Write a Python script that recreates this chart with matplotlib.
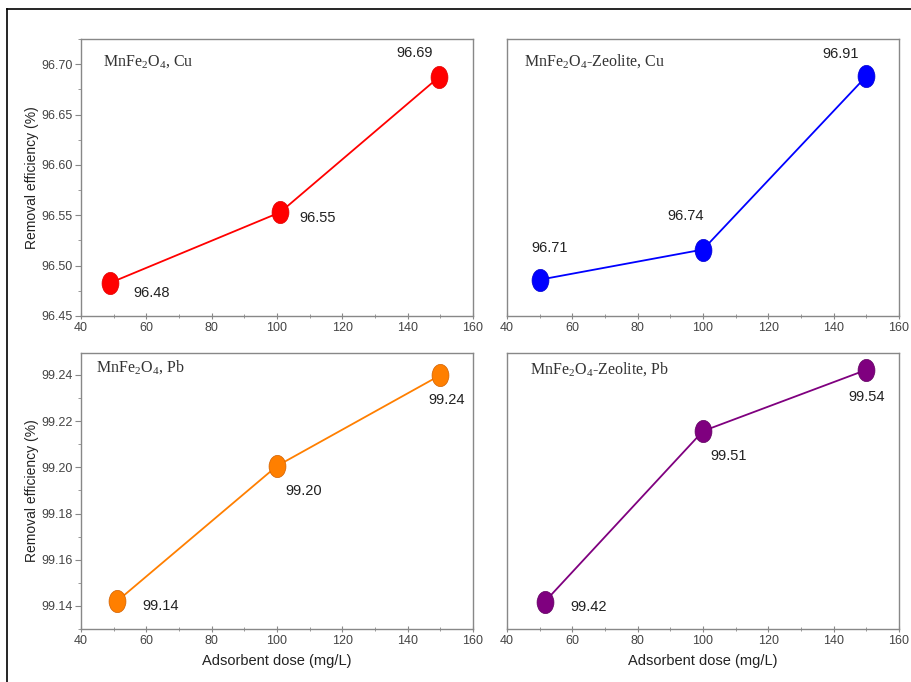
import numpy as np
import matplotlib

matplotlib.use("Agg")
import matplotlib.pyplot as plt
from matplotlib.path import Path
from matplotlib.lines import Line2D
from matplotlib.ticker import MultipleLocator, FormatStrFormatter

plt.rcParams["font.family"] = ["Liberation Sans", "DejaVu Sans"]
plt.rcParams["mathtext.fontset"] = "custom"
plt.rcParams["mathtext.rm"] = "Liberation Serif"

# values
dose_cu_mnfe = [49, 101, 149.5]
eff_cu_mnfe = [96.483, 96.553, 96.687]
text_cu_mnfe = ["96.48", "96.55", "96.69"]

dose_cu_zeo = [50, 100, 150]
eff_cu_zeo = [96.486, 96.516, 96.688]
text_cu_zeo = ["96.71", "96.74", "96.91"]

dose_pb_mnfe = [51, 100, 150]
eff_pb_mnfe = [99.142, 99.2006, 99.2399]
text_pb_mnfe = ["99.14", "99.20", "99.24"]

dose_pb_zeo = [51.5, 100, 150]
eff_pb_zeo = [99.1417, 99.2157, 99.2422]
text_pb_zeo = ["99.42", "99.51", "99.54"]

titles = [
    r"MnFe$_\mathregular{2}$O$_\mathregular{4}$, Cu",
    r"MnFe$_\mathregular{2}$O$_\mathregular{4}$-Zeolite, Cu",
    r"MnFe$_\mathregular{2}$O$_\mathregular{4}$, Pb",
    r"MnFe$_\mathregular{2}$O$_\mathregular{4}$-Zeolite, Pb",
]

# ellipse marker (taller than wide)
circ = Path.unit_circle()
ellipse = Path(circ.vertices * np.array([0.76, 1.0]), circ.codes)

fig = plt.figure(figsize=(9.12, 6.82), dpi=100)

W, H = 912, 682


def px_axes(l, t, r, b):
    return fig.add_axes([l / W, 1 - b / H, (r - l) / W, (b - t) / H])


panels = [
    (px_axes(81, 39, 473, 316), dose_cu_mnfe, eff_cu_mnfe, text_cu_mnfe,
     "#ff0000", "#e00000", [(41, -10), (37, -6), (-24, 24)], (0.056, 0.917), True, False),
    (px_axes(507, 39, 899, 316), dose_cu_zeo, eff_cu_zeo, text_cu_zeo,
     "#0000ff", "#0000d0", [(10, 32), (-17, 34), (-26, 22)], (0.043, 0.917), False, False),
    (px_axes(81, 353, 473, 629), dose_pb_mnfe, eff_pb_mnfe, text_pb_mnfe,
     "#ff7f00", "#d06000", [(44, -5), (27, -25), (6, -25)], (0.037, 0.946), True, True),
    (px_axes(507, 353, 899, 629), dose_pb_zeo, eff_pb_zeo, text_pb_zeo,
     "#7f007f", "#600060", [(44, -5), (26, -25), (0, -27)], (0.059, 0.938), False, True),
]

for i, (ax, xs, ys, labels, col, edge, offs, tpos, show_y, show_x) in enumerate(panels):
    ax.plot(xs, ys, "-", color=col, lw=1.3, zorder=2)
    ax.plot(xs, ys, linestyle="none", marker=ellipse, ms=16, color=col,
            markeredgecolor=edge, mew=0.5, zorder=3)
    for x, y, s, o in zip(xs, ys, labels, offs):
        ax.annotate(s, (x, y), xytext=o, textcoords="offset pixels",
                    ha="center", va="center", fontsize=10.5, color="#222222")
    ax.text(tpos[0], tpos[1], titles[i], transform=ax.transAxes,
            fontsize=11.5, color="#333333", family="Liberation Serif",
            ha="left", va="center")

    ax.set_xlim(40, 160)
    ax.xaxis.set_major_locator(MultipleLocator(20))
    ax.xaxis.set_minor_locator(MultipleLocator(10))
    if i < 2:
        ax.set_ylim(96.45, 96.725)
        ax.yaxis.set_major_locator(MultipleLocator(0.05))
        ax.yaxis.set_minor_locator(MultipleLocator(0.025))
    else:
        ax.set_ylim(99.13, 99.2495)
        ax.yaxis.set_major_locator(MultipleLocator(0.02))
        ax.yaxis.set_minor_locator(MultipleLocator(0.01))
    ax.yaxis.set_major_formatter(FormatStrFormatter("%.2f"))

    for sp in ax.spines.values():
        sp.set_color("#888888")
        sp.set_linewidth(1.0)
    ax.tick_params(which="major", direction="out", length=4, width=0.8,
                   color="#888888", labelsize=9, labelcolor="#444444", pad=2)
    ax.tick_params(which="minor", direction="out", length=2, width=0.6,
                   color="#888888")
    ax.tick_params(axis="x", which="both", direction="inout")
    ax.tick_params(axis="x", which="major", length=5)
    ax.tick_params(axis="x", which="minor", length=3)
    ax.tick_params(top=False, right=False, which="both")
    if show_y:
        ax.set_ylabel("Removal efficiency (%)", fontsize=10, color="#222222",
                      labelpad=2)
    else:
        ax.tick_params(axis="y", which="both", left=False, labelleft=False)
    if show_x:
        ax.set_xlabel("Adsorbent dose (mg/L)", fontsize=10.5, color="#222222",
                      labelpad=5)

# outer frame (top and left edges visible)
fig.add_artist(Line2D([7 / W, 1.0], [1 - 9 / H, 1 - 9 / H], color="black",
                      lw=1.2, transform=fig.transFigure))
fig.add_artist(Line2D([7 / W, 7 / W], [0, 1 - 9 / H], color="black",
                      lw=1.2, transform=fig.transFigure))

fig.savefig("out.png", dpi=100, facecolor="white")
